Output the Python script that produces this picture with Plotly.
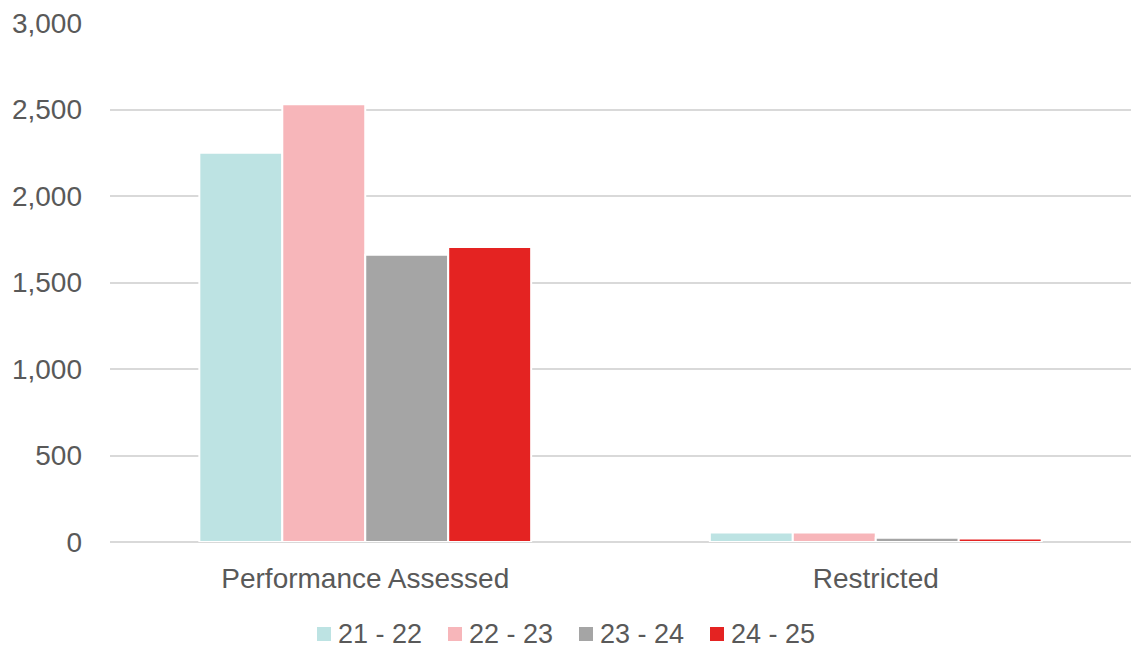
import plotly.graph_objects as go

categories = ["Performance Assessed", "Restricted"]
series_names = ["21 - 22", "22 - 23", "23 - 24", "24 - 25"]
values_21_22 = [2250, 55]
values_22_23 = [2530, 55]
values_23_24 = [1660, 25]
values_24_25 = [1705, 20]
colors = ["#BDE3E3", "#F7B6BA", "#A5A5A5", "#E42322"]
y_ticks = [0, 500, 1000, 1500, 2000, 2500, 3000]

series_values = [values_21_22, values_22_23, values_23_24, values_24_25]

W, H = 1131, 648
M_L, M_R, M_T, M_B = 110, 0, 23, 106
PLOT_W = W - M_L - M_R
PLOT_H = H - M_T - M_B


def px_to_paper(px, py):
    return (px - M_L) / PLOT_W, (H - M_B - py) / PLOT_H


fig = go.Figure()
for name, vals, col in zip(series_names, series_values, colors):
    fig.add_trace(go.Bar(
        name=name, x=categories, y=vals, showlegend=False,
        marker=dict(color=col, line=dict(color="white", width=2)),
    ))

font_family = "Liberation Sans, Arial, sans-serif"
text_color = "#595959"

# Legend row below the axis: colour key squares plus labels
legend_start, legend_step, key_size, legend_mid = 317, 131, 14, 634
for i, (name, col) in enumerate(zip(series_names, colors)):
    kx = legend_start + i * legend_step
    x0, y0 = px_to_paper(kx, legend_mid + key_size / 2)
    x1, y1 = px_to_paper(kx + key_size, legend_mid - key_size / 2)
    fig.add_shape(type="rect", xref="paper", yref="paper", x0=x0, x1=x1, y0=y0, y1=y1,
                  fillcolor=col, line=dict(width=0))
    tx, ty = px_to_paper(kx + key_size + 5, legend_mid)
    fig.add_annotation(xref="paper", yref="paper", x=tx, y=ty, text=name,
                       xanchor="left", yanchor="middle", showarrow=False,
                       font=dict(family=font_family, size=27, color=text_color))

fig.update_layout(
    width=W, height=H,
    margin=dict(l=M_L, r=M_R, t=M_T, b=M_B),
    barmode="group", bargap=0.35, bargroupgap=0,
    plot_bgcolor="white", paper_bgcolor="white",
    font=dict(family=font_family, size=28, color=text_color),
    showlegend=False,
    xaxis=dict(showgrid=False, showline=False, ticks="", ticklabelstandoff=17,
               tickfont=dict(size=28), automargin=False),
    yaxis=dict(range=[0, 3000], tickvals=y_ticks, tickformat=",", showgrid=True,
               gridcolor="#D9D9D9", gridwidth=1.5, zeroline=True,
               zerolinecolor="#D9D9D9", zerolinewidth=1.5, automargin=False,
               ticks="", ticklabelstandoff=27, tickfont=dict(size=28)),
)

fig.write_html("out.html")
